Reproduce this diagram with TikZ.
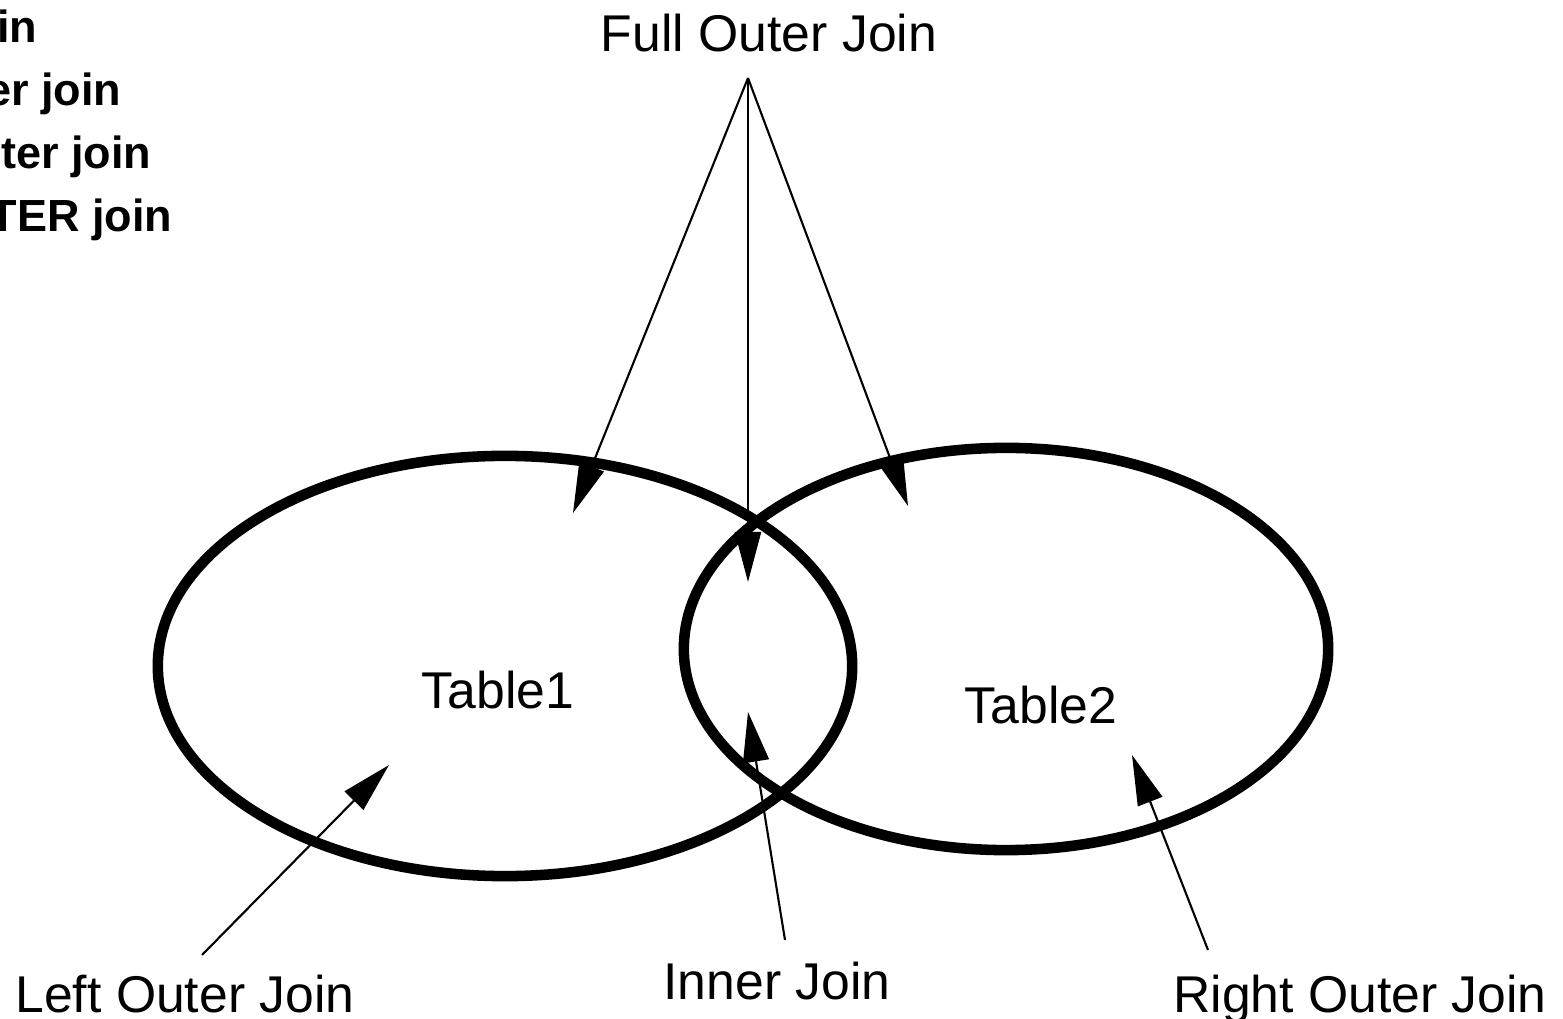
\documentclass[tikz,border=0pt]{standalone}
\usepackage{fontspec}
\setmainfont{Liberation Sans}
\usetikzlibrary{arrows.meta}

\begin{document}
\begin{tikzpicture}[x=0.01cm,y=-0.01cm,
  joinname/.style={font=\fontsize{14.7}{17}\selectfont, anchor=base, inner sep=0pt},
  kindname/.style={font=\fontsize{12.8}{15}\selectfont\bfseries, anchor=base east, inner sep=0pt},
  tableset/.style={line width=3pt},
  pointer/.style={line width=0.6pt, -{Triangle[length=0.5cm,width=0.26cm]}}]
\useasboundingbox (0,0) rectangle (1563,1019);

\node[kindname] (k1) at (38,43) {in};
\node[kindname] (k2) at (122,106) {er join};
\node[kindname] (k3) at (152,169) {ter join};
\node[kindname] (k4) at (173,232) {TER join};

\draw[tableset] (505,666) ellipse [x radius=3.47cm, y radius=2.10cm];
\draw[tableset] (1006,649) ellipse [x radius=3.22cm, y radius=2.01cm];

\node[joinname] (tab1) at (498,709) {Table1};
\node[joinname] (tab2) at (1041,724) {Table2};
\node[joinname] (full) at (769,52) {Full Outer Join};
\node[joinname] (left) at (185,1012) {Left Outer Join};
\node[joinname] (inner) at (777,1000) {Inner Join};
\node[joinname] (right) at (1360,1012) {Right Outer Join};

\coordinate (full_f) at (748,78);
\coordinate (full_a) at (573,513);
\coordinate (full_b) at (748,582);
\coordinate (full_c) at (908,506);
\coordinate (left_f) at (202,955);
\coordinate (left_t) at (389,765);
\coordinate (inner_f) at (785,940);
\coordinate (inner_t) at (748,712);
\coordinate (right_f) at (1208,950);
\coordinate (right_t) at (1132,755);

\draw[pointer] (full_f)--(full_a);
\draw[pointer] (full_f)--(full_b);
\draw[pointer] (full_f)--(full_c);
\draw[pointer] (left_f)--(left_t);
\draw[pointer] (inner_f)--(inner_t);
\draw[pointer] (right_f)--(right_t);
\end{tikzpicture}
\end{document}
